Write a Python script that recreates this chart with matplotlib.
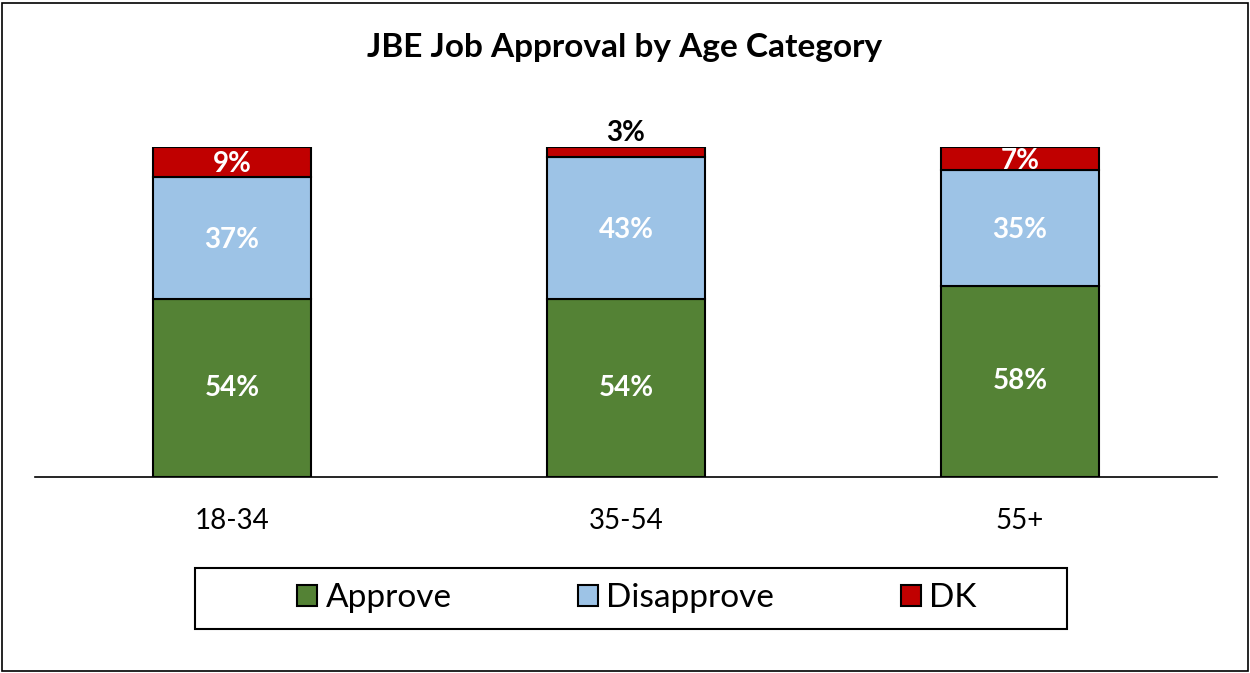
import matplotlib.pyplot as plt
from matplotlib.patches import Rectangle
import numpy as np

plt.rcParams['font.family'] = ['Lato', 'DejaVu Sans']

categories = ['18-34', '35-54', '55+']
approve = np.array([54, 54, 58])
disapprove = np.array([37, 43, 35])
dk = np.array([9, 3, 7])

colors = {'Approve': '#548235', 'Disapprove': '#9DC3E6', 'DK': '#C00000'}

fig = plt.figure(figsize=(12.5, 6.73), dpi=100)
ax = fig.add_axes([35/1250, 196/673, 1182/1250, 330/673])

x = np.arange(len(categories))
w = 0.40
b1 = ax.bar(x, approve, w, color=colors['Approve'], edgecolor='black', linewidth=1.5, label='Approve')
b2 = ax.bar(x, disapprove, w, bottom=approve, color=colors['Disapprove'], edgecolor='black', linewidth=1.5, label='Disapprove')
b3 = ax.bar(x, dk, w, bottom=approve+disapprove, color=colors['DK'], edgecolor='black', linewidth=1.5, label='DK')

# data labels
for i in range(len(categories)):
    ax.text(x[i], approve[i]/2, f'{approve[i]}%', ha='center', va='center',
            color='white', fontsize=20, fontweight='bold')
    ax.text(x[i], approve[i] + disapprove[i]/2 - 0.6, f'{disapprove[i]}%', ha='center', va='center',
            color='white', fontsize=20, fontweight='bold')
    top = approve[i] + disapprove[i]
    if dk[i] >= 5:
        ax.text(x[i], top + dk[i]/2 - 0.6, f'{dk[i]}%', ha='center', va='center',
                color='white', fontsize=20, fontweight='bold')
    else:
        ax.text(x[i], top + dk[i] + 0.3, f'{dk[i]}%', ha='center', va='bottom',
                color='black', fontsize=20, fontweight='bold')

ax.set_xlim(-0.5, 2.5)
ax.set_ylim(0, 100)
ax.set_yticks([])
ax.set_xticks(x, categories, fontsize=20)
ax.tick_params(axis='x', length=0, pad=22)
for s in ['top', 'right', 'left']:
    ax.spines[s].set_visible(False)
ax.spines['bottom'].set_linewidth(1.2)

fig.text(625/1250, 1 - 47/673, 'JBE Job Approval by Age Category', ha='center', va='center',
         fontsize=24, fontweight='bold')

# legend box
fig.add_artist(Rectangle((195/1250, 1 - 629/673), 872/1250, 61/673, transform=fig.transFigure,
                         fill=False, edgecolor='black', linewidth=1.5))
fig.legend(handles=[b1, b2, b3], loc='center', bbox_to_anchor=(637/1250, 1 - 598/673),
           ncol=3, frameon=False, fontsize=24, handlelength=0.6, handleheight=0.6,
           handletextpad=0.25, columnspacing=3.8)

# outer border
fig.add_artist(Rectangle((2/1250, 2/673), 1246/1250, 668/673, transform=fig.transFigure,
                         fill=False, edgecolor='black', linewidth=1.2))

fig.savefig('out.png', dpi=100)
